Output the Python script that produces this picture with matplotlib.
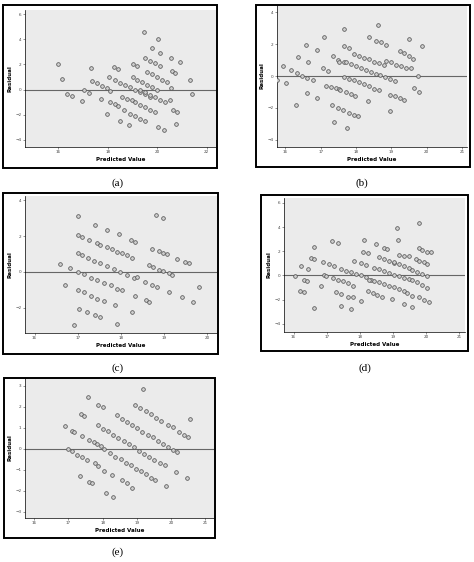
import matplotlib.pyplot as plt
from matplotlib.patches import Rectangle

W, H = 474, 562

# panel (a)
a_x = [16.0, 16.16, 16.36, 16.54, 16.95, 17.05, 17.26, 17.34,
       17.35, 17.55, 17.75, 17.95, 18.1, 17.73, 17.96, 18.03,
       18.1, 18.3, 18.43, 18.27, 18.43,
       18.3, 18.5, 18.7, 18.9, 19.1, 19.3, 19.5, 19.7,
       18.5, 18.66, 18.84, 18.57, 18.77, 18.97,
       18.9, 19.1, 19.3, 19.5, 19.01, 19.18,
       19.04, 19.2, 19.4, 19.6, 19.8, 20.0,
       19.1, 19.3, 19.5, 19.7, 19.9,
       19.45, 19.78, 20.05, 20.12, 19.51, 19.7, 19.9, 20.1,
       19.58, 19.78, 19.98, 20.18, 20.38, 20.55,
       19.3, 19.5, 19.7, 19.9, 20.1, 20.3, 20.5,
       20.05, 20.26, 20.55, 20.6, 20.73, 20.62, 20.8, 20.77, 20.93, 21.31, 21.4]
a_r = [2.03, 0.85, -0.37, -0.53, -0.93, 0.0, -0.27, 1.68,
       0.69, 0.51, 0.3, 0.11, -0.11, -0.77, -1.92, 1.01,
       -0.99, -1.17, -1.33, 1.81, 1.6,
       0.75, 0.56, 0.37, 0.19, 0.0, -0.16, -0.37, -0.59,
       -2.51, -1.65, -2.85, -0.59, -0.72, -0.85,
       -1.92, -2.13, -2.32, -2.5, 2.03, 1.89,
       0.96, 0.8, 0.6, 0.4, 0.2, 0.0,
       -0.99, -1.2, -1.4, -1.6, -1.79,
       4.61, 3.28, 4.0, 2.93, 2.48, 2.29, 2.08, 1.89,
       1.41, 1.2, 1.0, 0.8, 0.6, 0.16,
       0.0, -0.2, -0.4, -0.6, -0.8, -1.0, -0.85,
       -2.99, -3.25, 2.48, 1.49, 1.33, -1.6, -1.79, -2.77, 2.16, 0.75, -0.37]

# panel (b)
b_x = [15.76, 15.92, 16.02, 16.16, 16.31, 16.36, 16.57, 16.63, 16.6, 16.9, 16.9, 17.09,
       17.05, 17.19, 16.34, 16.48, 16.62, 16.79,
       17.14, 17.28, 17.42, 17.52, 17.35, 17.49,
       17.31, 17.38, 17.49, 17.62, 17.66, 17.66, 17.8, 17.52, 17.66, 17.75,
       17.55, 17.71, 17.85, 17.96, 17.8, 17.94, 18.06,
       17.66, 17.8, 17.94, 18.08, 18.22, 18.36, 18.5, 18.64,
       17.71, 17.85, 17.99, 18.13, 18.27, 18.41, 18.55, 18.69, 18.83, 18.97, 19.1,
       17.94, 18.08, 18.22, 18.36, 18.5, 18.64, 18.78,
       18.36, 18.57, 18.71, 18.85, 18.62, 18.33,
       18.85, 18.99, 19.13, 19.27, 19.41, 19.55,
       18.95, 19.09, 19.23, 19.37, 18.95,
       19.23, 19.37, 19.51, 19.6, 19.51, 19.86, 19.65, 19.79, 19.74]
b_r = [-0.26, 0.64, -0.47, 0.36, -1.81, 1.17, 1.98, 0.89, -1.06, 1.66, -1.38, 2.45,
       0.49, 0.32, 0.21, 0.0, -0.15, -0.26,
       -0.6, -0.68, -0.74, -0.81, 1.23, 1.02,
       -1.81, -2.89, -2.02, -2.13, 2.94, 1.87, 1.74, 0.91, 0.85, -3.26,
       -0.89, -1.0, -1.13, -1.28, -2.34, -2.45, -2.51,
       -0.04, -0.17, -0.28, -0.4, -0.53, -0.64, -0.79, -0.89,
       0.89, 0.75, 0.64, 0.51, 0.38, 0.28, 0.15, 0.04, -0.09, -0.2, -0.3,
       1.4, 1.25, 1.15, 1.05, 0.9, 0.8, 0.7,
       2.45, 2.23, 2.12, 1.98, 3.23, -1.57,
       0.96, 0.85, 0.72, 0.62, 0.51, 0.49,
       -1.17, -1.28, -1.4, -1.49, -2.23,
       1.6, 1.45, 1.28, 1.1, 2.3, 1.91, -0.74, -1.02, 0.0]

# panel (c)
c_x = [17.0, 17.4, 17.68, 17.95, 18.8, 18.98,
       17.0, 17.1, 17.25, 17.45, 17.52, 17.68, 17.8, 17.9, 18.02, 18.13, 18.25,
       18.23, 18.33,
       17.0, 17.1, 17.23, 17.37, 17.52, 17.68, 17.83, 17.98, 18.14, 18.29,
       16.83, 17.0, 17.14, 17.3, 17.45, 17.6, 17.76, 17.91, 18.03,
       16.58, 16.7,
       17.0, 17.14, 17.3, 17.45, 17.6,
       17.02, 17.21, 17.41, 17.52,
       16.92, 17.91, 17.87, 18.25,
       18.72, 18.87, 18.98, 19.06,
       18.64, 18.75, 18.87, 18.98, 19.1, 19.18,
       18.37, 18.56, 18.72, 18.83,
       18.33, 18.58, 18.65, 19.1, 19.3, 19.48, 19.57, 19.4, 19.67, 19.8]
c_r = [3.1, 2.6, 2.35, 2.1, 3.2, 3.0,
       2.05, 1.93, 1.78, 1.59, 1.5, 1.37, 1.26, 1.12, 1.03, 0.92, 0.78,
       1.78, 1.68,
       1.03, 0.93, 0.75, 0.62, 0.47, 0.32, 0.15, 0.0, -0.19, -0.32,
       0.19, 0.0, -0.13, -0.32, -0.47, -0.62, -0.75, -0.97, -1.03,
       0.43, -0.71,
       -0.99, -1.12, -1.36, -1.5, -1.63,
       -2.06, -2.24, -2.39, -2.52,
       -2.95, -2.93, -1.87, -2.24,
       1.25, 1.16, 1.07, 0.97,
       0.37, 0.28, 0.13, 0.06, -0.09, -0.19,
       -0.28, -0.56, -0.75, -0.84,
       -1.36, -1.59, -1.68, -1.12, 0.69, 0.56, 0.47, -1.4, -1.68, -0.84]

# panel (d)
d_x = [16.03, 16.21, 16.18, 16.31, 16.31, 16.41, 16.43, 16.53, 16.63, 16.63, 16.63, 16.83,
       16.88, 17.08, 17.23, 16.93, 16.98, 17.15, 17.33,
       17.18, 17.33, 17.48, 17.63, 17.78,
       17.28, 17.43, 17.63, 17.78, 17.43, 17.73,
       17.43, 17.58, 17.73, 17.88, 18.03, 18.18, 18.33,
       18.03, 17.83, 18.03, 18.18, 18.13, 18.1, 18.23,
       18.23, 18.38, 18.53, 18.68,
       18.28, 18.43, 18.58, 18.73, 18.88, 19.03, 19.18, 19.33,
       18.43, 18.58, 18.73, 18.88, 19.03, 19.18, 19.33, 19.48,
       18.48, 18.58, 18.73, 18.88, 19.03, 18.73, 18.83,
       18.98, 19.13, 19.16, 19.03, 19.18, 19.33, 19.48,
       19.18, 19.33, 19.48, 19.33, 19.58,
       19.43, 19.58, 19.78, 19.93, 20.08,
       19.58, 19.73, 19.88, 20.03,
       19.58, 19.73, 19.88, 20.03,
       19.68, 19.78, 19.93, 20.03,
       19.78, 19.88, 20.03, 20.13, 19.78]
d_r = [-0.08, 0.75, -1.25, -1.39, -0.36, -0.44, 0.53, 1.44, 1.36, 2.36, -2.69, -0.89,
       1.11, 0.97, 0.75, 0.0, -0.03, 2.83, 2.69,
       -0.22, -0.36, -0.47, -0.64, -0.83,
       -1.33, -1.53, -1.75, -1.81, -2.5, -2.81,
       0.53, 0.39, 0.25, 0.14, 0.03, -0.11, -0.36,
       -2.08, 1.22, 1.03, 0.89, 2.92, 1.97, 1.86,
       -1.25, -1.47, -1.61, -1.75,
       -0.36, -0.47, -0.58, -0.72, -0.86, -0.97, -1.1, -1.25,
       0.61, 0.5, 0.36, 0.22, 0.08, -0.05, -0.17, -0.3,
       2.56, 1.5, 1.36, 1.2, 1.05, 2.28, 2.2,
       -1.94, 3.94, 2.92, 1.08, 0.92, 0.8, 0.61,
       1.72, 1.64, 1.58, -2.36, -2.64,
       -1.47, -1.69, -1.81, -2.03, -2.22,
       -0.36, -0.58, -0.8, -1.0,
       0.47, 0.28, 0.14, -0.03,
       1.33, 1.22, 1.08, 0.97,
       2.28, 2.14, 1.97, 1.92, 4.36]

# panel (e)
e_x = [16.9, 17.0, 17.1, 17.17, 17.1, 17.25, 17.4, 17.55,
       17.33, 17.39, 17.38, 17.46, 17.57, 17.6, 17.75, 17.6, 17.7, 17.78, 17.87,
       17.84, 17.94, 18.03, 17.86, 18.0,
       17.86, 18.01, 18.16, 18.31, 18.46, 18.61, 18.76, 18.91, 19.06, 19.21, 19.36, 19.51, 19.66, 19.81,
       18.05, 18.1, 18.3, 18.27,
       18.22, 18.37, 18.52, 18.67, 18.82, 18.97, 19.12, 19.27, 19.42, 19.52,
       18.55, 18.7, 18.85,
       18.41, 18.56, 18.71, 18.86, 19.01, 19.16, 19.31, 19.46, 19.61, 19.76, 19.91, 20.06, 20.16,
       18.95, 19.1, 19.25, 19.4, 19.55, 19.7,
       19.18, 19.9, 20.05, 20.24, 20.38, 20.48, 20.15, 20.45, 20.55, 19.85]
e_r = [1.09, 0.0, 0.86, 0.8, -0.1, -0.28, -0.4, -0.55,
       -1.3, 0.61, 1.65, 1.57, 2.45, 0.42, 0.34, -1.58, -1.66, -0.7, -0.82,
       0.22, 0.11, 0.0, 2.11, 2.0,
       1.14, 0.96, 0.83, 0.66, 0.5, 0.37, 0.23, 0.08, -0.09, -0.26, -0.4, -0.55, -0.66, -0.8,
       -1.05, -2.1, -2.3, -1.26,
       -0.22, -0.38, -0.5, -0.66, -0.8, -0.95, -1.07, -1.23, -1.39, -1.5,
       -1.5, -1.65, -1.9,
       1.6, 1.44, 1.28, 1.12, 0.98, 0.82, 0.68, 0.54, 0.39, 0.25, 0.1, -0.04, -0.14,
       2.1, 1.94, 1.79, 1.64, 1.49, 1.34,
       2.86, 1.14, 1.03, 0.79, 0.66, 0.58, -1.1, -1.42, 1.44, -1.8]

panels = [
    # x, r, frame box, axes box (pixels), xlim, ylim, xticks, yticks, label, label pos
    (a_x, a_r, (3, 5, 217, 168), (25, 10, 217, 147), (14.65, 22.42), (-4.59, 6.35),
     [16, 18, 20, 22], [-4, -2, 0, 2, 4, 6], '(a)', (118, 183)),
    (b_x, b_r, (256, 5, 470, 167), (277, 5, 467, 147), (15.76, 21.14), (-4.47, 4.47),
     [16, 17, 18, 19, 20, 21], [-4, -2, 0, 2, 4], '(b)', (362, 183)),
    (c_x, c_r, (3, 193, 218, 354), (25, 196, 217, 333), (15.78, 20.22), (-3.42, 4.24),
     [16, 17, 18, 19, 20], [-2, 0, 2, 4], '(c)', (118, 368)),
    (d_x, d_r, (261, 195, 468, 351), (284, 198, 465, 332), (15.71, 21.17), (-4.67, 6.4),
     [16, 17, 18, 19, 20, 21], [-4, -2, 0, 2, 4, 6], '(d)', (365, 368)),
    (e_x, e_r, (4, 378, 215, 538), (25, 378, 214, 518), (15.73, 21.25), (-3.31, 3.38),
     [16, 17, 18, 19, 20, 21], [-3, -2, -1, 0, 1, 2, 3], '(e)', (118, 552)),
]

fig = plt.figure(figsize=(W / 100, H / 100), dpi=100)

for x, r, frame, box, xl, yl, xt, yt, lab, lpos in panels:
    fx0, fy0, fx1, fy1 = frame
    fig.patches.append(Rectangle((fx0 / W, 1 - fy1 / H), (fx1 - fx0) / W, (fy1 - fy0) / H,
                                 transform=fig.transFigure, fill=False,
                                 edgecolor='black', linewidth=1.4))
    x0, y0, x1, y1 = box
    ax = fig.add_axes([x0 / W, 1 - y1 / H, (x1 - x0) / W, (y1 - y0) / H])
    ax.set_facecolor('#ebebeb')
    ax.scatter(x, r, s=7, facecolors='#cfcfcf', edgecolors='#555555', linewidths=0.55, zorder=3)
    ax.axhline(0, color='#666666', linewidth=0.8, zorder=2)
    ax.set_xlim(*xl)
    ax.set_ylim(*yl)
    ax.set_xticks(xt)
    ax.set_yticks(yt)
    ax.tick_params(labelsize=3, length=1.5, width=0.4, pad=1, colors='#444444')
    for side in ['top', 'right']:
        ax.spines[side].set_visible(False)
    for side in ['left', 'bottom']:
        ax.spines[side].set_linewidth(0.5)
    ax.set_xlabel('Predicted Value', fontsize=4, fontweight='bold', labelpad=2)
    ax.set_ylabel('Residual', fontsize=4, fontweight='bold', labelpad=2)
    fig.text(lpos[0] / W, 1 - lpos[1] / H, lab, ha='center', va='center',
             fontsize=8, family='Liberation Serif')

fig.savefig('out.png', dpi=100)
